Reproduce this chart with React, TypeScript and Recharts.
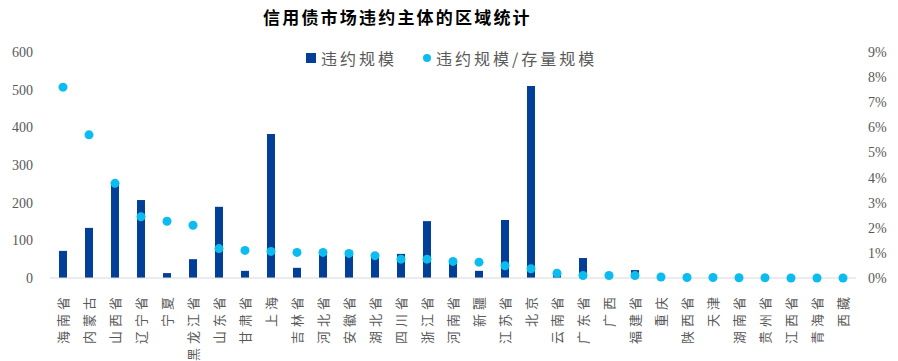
import { ComposedChart, Bar, Line, XAxis, YAxis } from 'recharts';

const provinces = [
  '海南省', '内蒙古', '山西省', '辽宁省', '宁夏', '黑龙江省', '山东省', '甘肃省', '上海', '吉林省',
  '河北省', '安徽省', '湖北省', '四川省', '浙江省', '河南省', '新疆', '江苏省', '北京', '云南省',
  '广东省', '广西', '福建省', '重庆', '陕西省', '天津', '湖南省', '贵州省', '江西省', '青海省', '西藏',
];

// 违约规模 (左轴)
const defaultScale = [
  72, 133, 251, 207, 13, 50, 189, 19, 382, 27,
  62, 72, 64, 64, 151, 48, 19, 154, 510, 12,
  53, 4, 21, 1, 0, 0, 0, 0, 0, 0, 0,
];

// 违约规模/存量规模 (右轴, %)
const defaultRatio = [
  7.6, 5.7, 3.77, 2.44, 2.26, 2.1, 1.17, 1.1, 1.06, 1.02,
  1.02, 0.98, 0.89, 0.75, 0.75, 0.66, 0.63, 0.49, 0.37, 0.19,
  0.1, 0.1, 0.1, 0.04, 0.02, 0.02, 0.01, 0.01, 0, 0, 0,
];

const leftTicks = [0, 100, 200, 300, 400, 500, 600];
const rightTicks = [0, 1, 2, 3, 4, 5, 6, 7, 8, 9];

const data = provinces.map((name, i) => ({
  name,
  scale: defaultScale[i],
  ratio: defaultRatio[i],
}));

const BAR = '#023f98';
const DOT = '#0bbcf0';
const GREY = '#595959';
const CJK = "'Noto Sans CJK SC', sans-serif";

const ProvinceTick = (props: any) => {
  const { x, y, payload } = props;
  return (
    <g transform={`translate(${x},${y + 7})`}>
      <text
        transform="rotate(-90)"
        textAnchor="end"
        dy="0.36em"
        fill={GREY}
        fontSize={13}
        letterSpacing={4}
        fontFamily={CJK}
      >
        {payload.value}
      </text>
    </g>
  );
};

export default function App() {
  return (
    <div style={{ position: 'absolute', left: 0, top: 0, width: 898, height: 361, background: '#fff' }}>
      <div
        style={{
          position: 'absolute',
          left: 263,
          top: 6,
          fontFamily: CJK,
          fontWeight: 700,
          fontSize: 17,
          letterSpacing: 2.2,
          color: '#000',
          lineHeight: '22px',
          whiteSpace: 'nowrap',
        }}
      >
        信用债市场违约主体的区域统计
      </div>
      <div
        style={{
          position: 'absolute',
          left: 306,
          top: 48,
          display: 'flex',
          alignItems: 'center',
          fontFamily: CJK,
          fontSize: 16,
          letterSpacing: 3,
          color: GREY,
          lineHeight: '20px',
          whiteSpace: 'nowrap',
          zIndex: 1,
        }}
      >
        <span style={{ width: 10, height: 10, background: BAR, marginRight: 5, display: 'inline-block' }} />
        <span>违约规模</span>
        <span
          style={{ width: 8, height: 8, borderRadius: 4, background: DOT, marginLeft: 26, marginRight: 5, display: 'inline-block' }}
        />
        <span>违约规模/存量规模</span>
      </div>
      <ComposedChart width={898} height={361} data={data} margin={{ top: 52, right: 0, bottom: 0, left: 0 }}>
        <XAxis
          dataKey="name"
          interval={0}
          height={83}
          tick={<ProvinceTick />}
          tickLine={false}
          axisLine={{ stroke: '#d9d9d9' }}
        />
        <YAxis
          yAxisId="left"
          orientation="left"
          width={50}
          domain={[0, 600]}
          ticks={leftTicks}
          axisLine={false}
          tickLine={false}
          tickSize={0}
          tickMargin={17}
          tick={{ fill: GREY, fontSize: 14, fontFamily: "'Liberation Serif', serif" }}
        />
        <YAxis
          yAxisId="right"
          orientation="right"
          width={42}
          domain={[0, 9]}
          ticks={rightTicks}
          axisLine={false}
          tickLine={false}
          tickSize={0}
          tickMargin={12}
          tickFormatter={(v: number) => `${v}%`}
          tick={{ fill: GREY, fontSize: 14, fontFamily: "'Liberation Serif', serif", textAnchor: 'start' }}
        />
        <Bar
          yAxisId="left"
          dataKey="scale"
          name="违约规模"
          fill={BAR}
          barSize={8}
          isAnimationActive={false}
        />
        <Line
          yAxisId="right"
          dataKey="ratio"
          name="违约规模/存量规模"
          stroke="none"
          strokeWidth={0}
          dot={{ r: 4.5, fill: DOT, stroke: 'none' }}
          activeDot={false}
          isAnimationActive={false}
        />
      </ComposedChart>
    </div>
  );
}
